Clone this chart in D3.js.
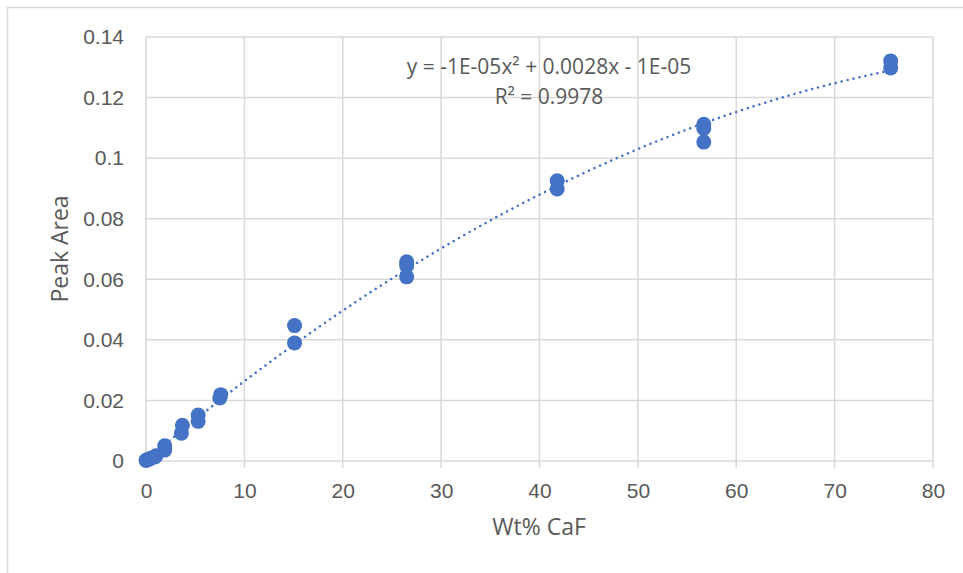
<!DOCTYPE html>
<html>
<head>
<meta charset="utf-8">
<script src="https://cdn.jsdelivr.net/npm/d3@7"></script>
<style>
  body { margin: 0; background: #fff; }
  svg { font-family: "Segoe UI", "Open Sans", sans-serif; }
</style>
</head>
<body>
<svg width="963" height="573"></svg>
<script>
var wtPct = [0, 0.1, 0.3, 0.5, 0.9, 1.0, 1.9, 1.9, 3.6, 3.7, 5.3, 5.3, 7.5, 7.6,
             15.1, 15.1, 26.5, 26.5, 26.5, 41.8, 41.8, 56.7, 56.7, 56.7, 75.7, 75.7];
var peakArea = [0.0002, 0.0004, 0.0006, 0.0009, 0.0013, 0.0017, 0.0036, 0.005, 0.0092, 0.0118, 0.0131, 0.0152, 0.0208, 0.0219,
                0.039, 0.0447, 0.0608, 0.0645, 0.0658, 0.0898, 0.0925, 0.1053, 0.1098, 0.1112, 0.1298, 0.1321];
var xTicks = [0, 10, 20, 30, 40, 50, 60, 70, 80];
var yTicks = [0, 0.02, 0.04, 0.06, 0.08, 0.1, 0.12, 0.14];
var eqText = "y = -1E-05x² + 0.0028x - 1E-05";
var r2Text = "R² = 0.9978";

var svg = d3.select("svg");
var x = d3.scaleLinear().domain([0, 80]).range([146, 933]);
var y = d3.scaleLinear().domain([0, 0.14]).range([461, 37]);

// outer chart frame (only top/left visible in the crop)
svg.append("rect").attr("x", 7.5).attr("y", 7.5).attr("width", 980).attr("height", 600)
  .attr("fill", "none").attr("stroke", "#d9d9d9").attr("stroke-width", 1.5);

// gridlines
svg.append("g").selectAll("line").data(yTicks).enter().append("line")
  .attr("x1", x(0)).attr("x2", x(80)).attr("y1", d => y(d)).attr("y2", d => y(d))
  .attr("stroke", "#d9d9d9").attr("stroke-width", 1.5);
svg.append("g").selectAll("line").data(xTicks).enter().append("line")
  .attr("x1", d => x(d)).attr("x2", d => x(d)).attr("y1", y(0.14)).attr("y2", y(0) + 7)
  .attr("stroke", "#d9d9d9").attr("stroke-width", 1.5);

// axes (labels only)
var xAxis = d3.axisBottom(x).tickValues(xTicks).tickSize(0).tickPadding(22).tickFormat(d3.format("d"));
var yAxis = d3.axisLeft(y).tickValues(yTicks).tickSize(0).tickPadding(22).tickFormat(d => d === 0 ? "0" : String(+d.toFixed(2)));
svg.append("g").attr("transform", "translate(0," + y(0) + ")").call(xAxis)
  .call(g => g.select(".domain").remove());
svg.append("g").attr("transform", "translate(" + x(0) + ",0)").call(yAxis)
  .call(g => g.select(".domain").remove());
svg.selectAll(".tick text").attr("fill", "#595959").attr("font-size", 21).attr("font-family", "inherit");

// quadratic least-squares trendline from the data
function fitQuad(xs, ys) {
  var s = [0, 0, 0, 0, 0], t = [0, 0, 0];
  xs.forEach((xv, i) => {
    for (var k = 0; k < 5; k++) s[k] += Math.pow(xv, k);
    for (var k = 0; k < 3; k++) t[k] += Math.pow(xv, k) * ys[i];
  });
  var A = [[s[0], s[1], s[2], t[0]], [s[1], s[2], s[3], t[1]], [s[2], s[3], s[4], t[2]]];
  for (var i = 0; i < 3; i++) {
    for (var j = i + 1; j < 3; j++) {
      var f = A[j][i] / A[i][i];
      for (var k = i; k < 4; k++) A[j][k] -= f * A[i][k];
    }
  }
  var c = [0, 0, 0];
  for (var i = 2; i >= 0; i--) {
    var v = A[i][3];
    for (var k = i + 1; k < 3; k++) v -= A[i][k] * c[k];
    c[i] = v / A[i][i];
  }
  return c;
}
var coef = fitQuad(wtPct, peakArea);
var xMax = d3.max(wtPct);
var trend = d3.range(0, xMax + 0.01, xMax / 100).map(v => [v, coef[0] + coef[1] * v + coef[2] * v * v]);

svg.append("path").datum(trend)
  .attr("d", d3.line().x(d => x(d[0])).y(d => y(d[1])))
  .attr("fill", "none").attr("stroke", "#4472C4").attr("stroke-width", 2.5)
  .attr("stroke-linecap", "round").attr("stroke-dasharray", "0.1 6");

// points
svg.append("g").selectAll("circle").data(wtPct).enter().append("circle")
  .attr("cx", d => x(d)).attr("cy", (d, i) => y(peakArea[i]))
  .attr("r", 7.5).attr("fill", "#4472C4");

// equation labels
svg.append("text").attr("x", 549).attr("y", 74).attr("text-anchor", "middle")
  .attr("fill", "#595959").attr("font-size", 21).text(eqText);
svg.append("text").attr("x", 549).attr("y", 104).attr("text-anchor", "middle")
  .attr("fill", "#595959").attr("font-size", 21).text(r2Text);

// axis titles
svg.append("text").attr("x", 539).attr("y", 535).attr("text-anchor", "middle")
  .attr("fill", "#595959").attr("font-size", 23).text("Wt% CaF");
svg.append("text").attr("transform", "translate(68,249) rotate(-90)").attr("text-anchor", "middle")
  .attr("fill", "#595959").attr("font-size", 23).text("Peak Area");
</script>
</body>
</html>
